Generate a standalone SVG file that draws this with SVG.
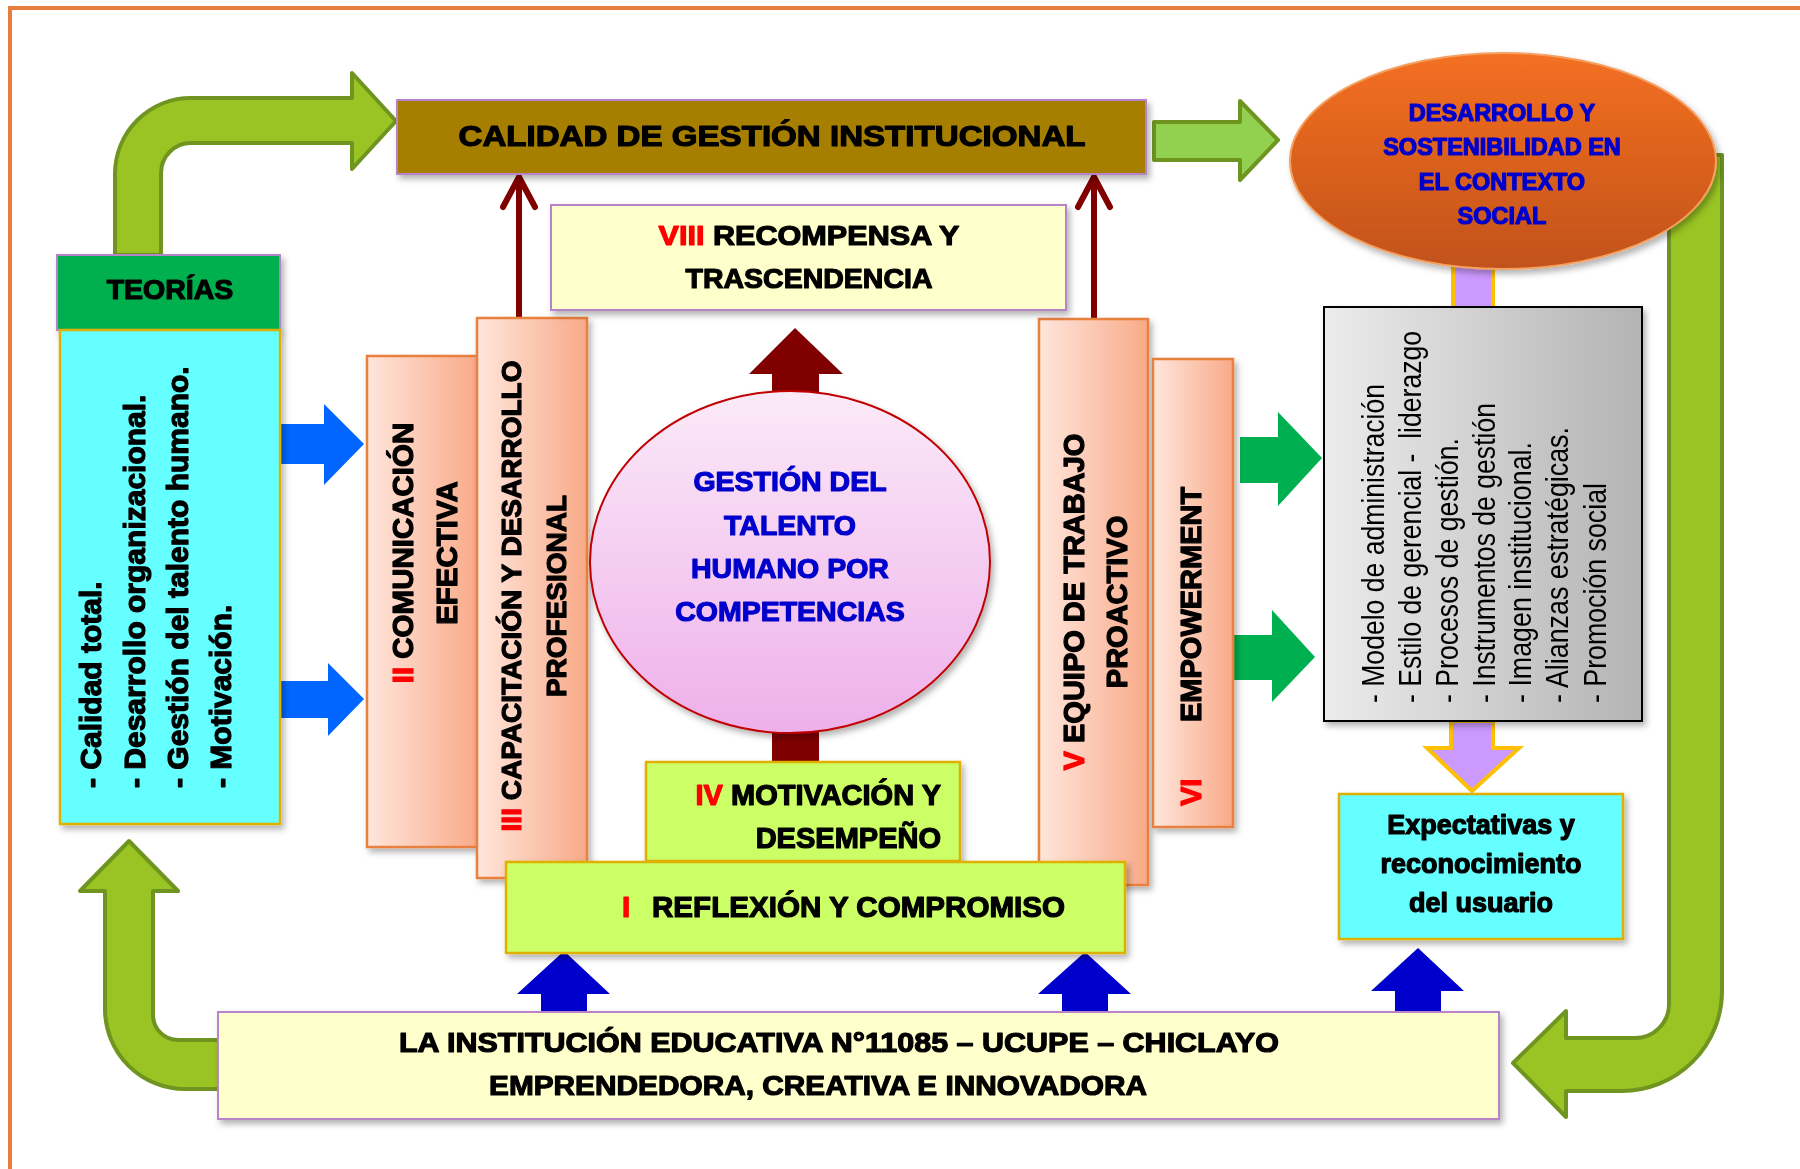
<svg xmlns="http://www.w3.org/2000/svg" width="1800" height="1169" viewBox="0 0 1800 1169">
<defs>
<style>
.t{font-family:"Liberation Sans",Arial,sans-serif;font-weight:bold;fill:#000;stroke:#000;stroke-width:1.2;stroke-linejoin:round}
.r{fill:#FF0000;stroke:#FF0000}
.bl{fill:#0000CC;stroke:#0000CC}
.n{font-family:"Liberation Sans",Arial,sans-serif;font-weight:normal;fill:#000;white-space:pre}
.pale{fill:#FFFFCC;stroke:#B784C8;stroke-width:2}
.lime{fill:#CCFF66;stroke:#E0B000;stroke-width:2.5}
.cyan{fill:#66FFFF;stroke:#E0B000;stroke-width:2.5}
.sal{fill:url(#gSal);stroke:#E8803F;stroke-width:2.5}
.curv{fill:#99C423;stroke:#6F9420;stroke-width:4;stroke-linejoin:round}
.blue{fill:#0066FF}
.dblue{fill:#0000CC}
.grn{fill:#00B050}
.mar{fill:none;stroke:#800000;stroke-width:6;stroke-linecap:round;stroke-linejoin:round}
.lav{fill:#CC99FF;stroke:#FFC000;stroke-width:4}
</style>
<linearGradient id="gSal" x1="0" y1="0" x2="1" y2="0"><stop offset="0" stop-color="#FFE6DC"/><stop offset="1" stop-color="#F8AA88"/></linearGradient>
<linearGradient id="gOr" x1="0" y1="0" x2="0" y2="1"><stop offset="0" stop-color="#F47021"/><stop offset="1" stop-color="#C2521B"/></linearGradient>
<linearGradient id="gPk" x1="0" y1="0" x2="0" y2="1"><stop offset="0" stop-color="#FBEAF8"/><stop offset="1" stop-color="#EEB0EA"/></linearGradient>
<linearGradient id="gGr" x1="0" y1="0" x2="1" y2="0"><stop offset="0" stop-color="#ECECEC"/><stop offset="1" stop-color="#B3B3B3"/></linearGradient>
<filter id="sh" x="-10%" y="-10%" width="130%" height="130%"><feDropShadow dx="3" dy="4" stdDeviation="3" flood-color="#000" flood-opacity="0.3"/></filter>
</defs>
<rect x="0" y="0" width="1800" height="1169" fill="#FFFFFF"/>
<rect x="10" y="8" width="1880" height="1260" fill="none" stroke="#E77D3E" stroke-width="4"/>

<g id="connectors">
<path class="curv" d="M115,255 L115,174 A76,76 0 0 1 191,98 L352,98 L352,73 L396,121 L352,169 L352,143 L191,143 A30,30 0 0 0 161,173 L161,255 Z"/>
<path d="M1154,122 L1240,122 L1240,101 L1278,140 L1240,180 L1240,160 L1154,160 Z" fill="#92D050" stroke="#6F9420" stroke-width="4" stroke-linejoin="round"/>
<path class="curv" d="M1669,155 L1722,155 L1722,991 A100,100 0 0 1 1622,1091 L1566,1091 L1566,1117 L1513,1063 L1566,1011 L1566,1038 L1635,1038 A34,34 0 0 0 1669,1004 Z"/>
<path class="curv" d="M240,1089 L185,1089 A80,80 0 0 1 105,1009 L105,891 L80,891 L129,841 L178,891 L153,891 L153,1015 A25,25 0 0 0 178,1040 L240,1040 Z"/>
<rect class="lav" x="1453" y="250" width="40" height="58"/>
<path class="lav" d="M1451,721 L1493,721 L1493,748 L1519,748 L1472,791 L1427,748 L1451,748 Z"/>
<path class="blue" d="M281,424 L324,424 L324,404 L364,444 L324,485 L324,464 L281,464 Z"/>
<path class="blue" d="M281,681 L328,681 L328,663 L364,699 L328,736 L328,718 L281,718 Z"/>
<path class="grn" d="M1240,437 L1278,437 L1278,412 L1322,458 L1278,506 L1278,483 L1240,483 Z"/>
<path class="grn" d="M1233,635 L1272,635 L1272,610 L1315,657 L1272,702 L1272,680 L1233,680 Z"/>
<path class="dblue" d="M541,1014 L541,994 L517,994 L564,951 L610,994 L587,994 L587,1014 Z"/>
<path class="dblue" d="M1062,1014 L1062,994 L1038,994 L1085,952 L1131,994 L1108,994 L1108,1014 Z"/>
<path class="dblue" d="M1395,1014 L1395,991 L1371,991 L1418,948 L1464,991 L1441,991 L1441,1014 Z"/>
<path d="M772,394 L772,374 L749,374 L795,328 L843,374 L819,374 L819,394 Z" fill="#800000"/>
<rect x="772" y="728" width="47" height="35" fill="#800000"/>
<line class="mar" x1="519" y1="318" x2="519" y2="180"/>
<polyline class="mar" points="503,207 519,177 535,207"/>
<line class="mar" x1="1094" y1="319" x2="1094" y2="180"/>
<polyline class="mar" points="1078,207 1094,177 1110,207"/>
</g>

<g id="calidad" filter="url(#sh)">
<rect x="397" y="100" width="749" height="74" fill="#A67F00" stroke="#B784C8" stroke-width="2"/>
<text class="t" x="772" y="146" font-size="29.5" text-anchor="middle" textLength="627" lengthAdjust="spacingAndGlyphs">CALIDAD DE GESTIÓN INSTITUCIONAL</text>
</g>

<g id="desarrollo" filter="url(#sh)">
<ellipse cx="1503" cy="161" rx="213" ry="108" fill="url(#gOr)" stroke="#F4A060" stroke-width="2"/>
<text class="t bl" font-size="23.5" text-anchor="middle"><tspan x="1502" y="121">DESARROLLO Y</tspan><tspan x="1502" y="155">SOSTENIBILIDAD EN</tspan><tspan x="1502" y="190">EL CONTEXTO</tspan><tspan x="1502" y="224">SOCIAL</tspan></text>
</g>

<g id="teorias" filter="url(#sh)">
<rect x="57" y="255" width="223" height="75" fill="#00B050" stroke="#B784C8" stroke-width="2"/>
<text class="t" x="170" y="299" font-size="28.5" text-anchor="middle">TEORÍAS</text>
</g>

<g id="teorias-lista" filter="url(#sh)">
<rect class="cyan" x="60" y="330" width="220" height="494"/>
<text class="t" font-size="30" transform="translate(101,788) rotate(-90)">- Calidad total.</text>
<text class="t" font-size="30" transform="translate(145,788) rotate(-90)">- Desarrollo organizacional.</text>
<text class="t" font-size="30" transform="translate(188,788) rotate(-90)">- Gestión del talento humano.</text>
<text class="t" font-size="30" transform="translate(231,788) rotate(-90)">- Motivación.</text>
</g>

<g id="box-ii" filter="url(#sh)">
<rect class="sal" x="367" y="356" width="111" height="491"/>
<text class="t" font-size="29.5" text-anchor="middle" transform="translate(413,553) rotate(-90)"><tspan class="r">II</tspan> COMUNICACIÓN</text>
<text class="t" font-size="29.5" text-anchor="middle" transform="translate(457,553) rotate(-90)">EFECTIVA</text>
</g>

<g id="box-iii" filter="url(#sh)">
<rect class="sal" x="477" y="318" width="110" height="560"/>
<text class="t" font-size="28" text-anchor="middle" transform="translate(521,596) rotate(-90)"><tspan class="r">III</tspan> CAPACITACIÓN Y DESARROLLO</text>
<text class="t" font-size="28" text-anchor="middle" transform="translate(566,596) rotate(-90)">PROFESIONAL</text>
</g>

<g id="box-v" filter="url(#sh)">
<rect class="sal" x="1039" y="319" width="109" height="566"/>
<text class="t" font-size="29" text-anchor="middle" transform="translate(1084,602) rotate(-90)"><tspan class="r">V</tspan> EQUIPO DE TRABAJO</text>
<text class="t" font-size="29" text-anchor="middle" transform="translate(1127,602) rotate(-90)">PROACTIVO</text>
</g>

<g id="box-vi" filter="url(#sh)">
<rect class="sal" x="1153" y="359" width="80" height="468"/>
<text class="t r" font-size="29" transform="translate(1201,806) rotate(-90)">VI</text>
<text class="t" font-size="29" transform="translate(1201,722) rotate(-90)">EMPOWERMENT</text>
</g>

<g id="box-viii" filter="url(#sh)">
<rect class="pale" x="551" y="205" width="515" height="105"/>
<text class="t" x="809" y="245" font-size="28.5" text-anchor="middle" textLength="301" lengthAdjust="spacingAndGlyphs"><tspan class="r">VIII</tspan> RECOMPENSA Y</text>
<text class="t" x="809" y="288" font-size="28.5" text-anchor="middle">TRASCENDENCIA</text>
</g>

<g id="gestion" filter="url(#sh)">
<ellipse cx="790" cy="562" rx="200" ry="171" fill="url(#gPk)" stroke="#C00000" stroke-width="2"/>
<text class="t bl" font-size="28.5" text-anchor="middle"><tspan x="790" y="491">GESTIÓN DEL</tspan><tspan x="790" y="535">TALENTO</tspan><tspan x="790" y="578">HUMANO POR</tspan><tspan x="790" y="621">COMPETENCIAS</tspan></text>
</g>

<g id="box-iv" filter="url(#sh)">
<rect class="lime" x="646" y="762" width="314" height="99"/>
<text class="t" x="941" y="805" font-size="29" text-anchor="end"><tspan class="r">IV</tspan> MOTIVACIÓN Y</text>
<text class="t" x="941" y="848" font-size="29" text-anchor="end">DESEMPEÑO</text>
</g>

<g id="box-i" filter="url(#sh)">
<rect class="lime" x="506" y="862" width="619" height="91"/>
<text class="t r" x="622" y="917" font-size="29.5">I</text>
<text class="t" x="652" y="917" font-size="29.5" textLength="413" lengthAdjust="spacingAndGlyphs">REFLEXIÓN Y COMPROMISO</text>
</g>

<g id="gris" filter="url(#sh)">
<rect x="1324" y="307" width="318" height="414" fill="url(#gGr)" stroke="#000" stroke-width="2"/>
<text class="n" font-size="31" transform="translate(1384,703) rotate(-90)" textLength="319" lengthAdjust="spacingAndGlyphs">- Modelo de administración</text>
<text class="n" font-size="31" transform="translate(1421,703) rotate(-90)" textLength="372" lengthAdjust="spacingAndGlyphs" xml:space="preserve">- Estilo de gerencial -  liderazgo</text>
<text class="n" font-size="31" transform="translate(1458,703) rotate(-90)" textLength="265" lengthAdjust="spacingAndGlyphs">- Procesos de gestión.</text>
<text class="n" font-size="31" transform="translate(1495,703) rotate(-90)" textLength="300" lengthAdjust="spacingAndGlyphs">- Instrumentos de gestión</text>
<text class="n" font-size="31" transform="translate(1531,703) rotate(-90)" textLength="261" lengthAdjust="spacingAndGlyphs">- Imagen institucional.</text>
<text class="n" font-size="31" transform="translate(1568,703) rotate(-90)" textLength="276" lengthAdjust="spacingAndGlyphs">- Alianzas estratégicas.</text>
<text class="n" font-size="31" transform="translate(1606,703) rotate(-90)" textLength="220" lengthAdjust="spacingAndGlyphs">- Promoción social</text>
</g>

<g id="expectativas" filter="url(#sh)">
<rect class="cyan" x="1339" y="794" width="284" height="145"/>
<text class="t" font-size="27" text-anchor="middle"><tspan x="1481" y="834">Expectativas y</tspan><tspan x="1481" y="873">reconocimiento</tspan><tspan x="1481" y="912">del usuario</tspan></text>
</g>

<g id="institucion" filter="url(#sh)">
<rect class="pale" x="218" y="1012" width="1281" height="107"/>
<text class="t" x="839" y="1052" font-size="28.5" text-anchor="middle" textLength="880" lengthAdjust="spacingAndGlyphs">LA INSTITUCIÓN EDUCATIVA N°11085 – UCUPE – CHICLAYO</text>
<text class="t" x="818" y="1095" font-size="28.5" text-anchor="middle" textLength="658" lengthAdjust="spacingAndGlyphs">EMPRENDEDORA, CREATIVA E INNOVADORA</text>
</g>
</svg>
